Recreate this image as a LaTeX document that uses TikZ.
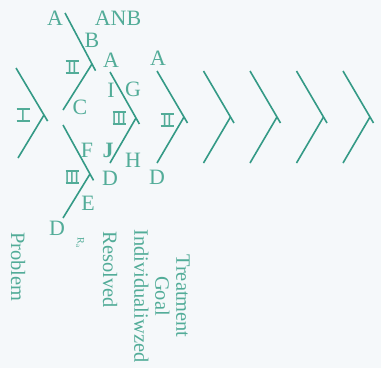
\documentclass[tikz,border=0pt]{standalone}
\usepackage{fontspec}
\setmainfont{Liberation Serif}
\newfontfamily\romfont{DejaVu Sans}
\usetikzlibrary{calc}
\definecolor{chevgreen}{RGB}{52,154,134}
\definecolor{labgreen}{RGB}{82,172,152}
\definecolor{paper}{RGB}{245,248,250}
% one chevron: name, top end, joint, bottom end
\newcommand\chevron[4]{%
  \coordinate (#1t) at #2; \coordinate (#1j) at #3; \coordinate (#1b) at #4;
  \draw[chev] (#1t) -- ($(#1t)!1.13!(#1j)$);
  \draw[chev] (#1b) -- (#1j);}
% roman numeral with bars above and below
\newcommand\romnum[1]{\setbox0\hbox to 13bp{\hss\romfont#1\hss}%
  \vbox{\hrule width\wd0 height1.5pt\kern-0.8pt\copy0\kern-0.8pt\hrule width\wd0 height1.5pt}}

\begin{document}
\begin{tikzpicture}[x=1bp,y=-1bp,
  chev/.style={chevgreen,line width=1.6bp},
  lab/.style={labgreen,inner sep=0pt,font=\fontsize{22}{23}\selectfont},
  rom/.style={labgreen,inner sep=0pt,font=\fontsize{16}{16}\selectfont},
  side/.style={labgreen,inner sep=0pt,rotate=-90,align=center,font=\fontsize{20.5}{21}\selectfont}]
  \fill[paper] (0,0) rectangle (381,368);
  \chevron{c1}{(16,68)}{(44,115)}{(18,158)}
  \chevron{c2}{(65,13)}{(92,64)}{(63,110)}
  \chevron{c3}{(63,125)}{(90,174)}{(63,218)}
  \chevron{c4}{(110,72)}{(136,118)}{(110,163)}
  \foreach \i in {0,...,4} {
    \pgfmathsetmacro\xt{157+46.5*\i}
    \pgfmathsetmacro\xj{184+46.5*\i}
    \chevron{r\i}{(\xt,71)}{(\xj,117)}{(\xt,163)}
  }
  % letters round the chevrons
  \node[lab] (a1) at (55,18) {A};
  \node[lab] (anb) at (118,18) {ANB};
  \node[lab] (b) at (92,40) {B};
  \node[rom] (ii1) at (72,67) {\romnum{II}};
  \node[lab] (c) at (80,107) {C};
  \node[rom] (i1) at (23,115) {\romnum{I}};
  \node[lab] (a2) at (111,60) {A};
  \node[lab] (i2) at (111,90) {I};
  \node[lab] (g) at (133,89) {G};
  \node[rom] (iii1) at (119,118) {\romnum{III}};
  \node[lab] (j) at (108,150) {\textbf{J}};
  \node[lab] (h) at (133,160) {H};
  \node[lab] (d1) at (110,178) {D};
  \node[lab] (f) at (87,150) {F};
  \node[rom] (iii2) at (72,177) {\romnum{III}};
  \node[lab] (e) at (88,203) {E};
  \node[lab] (d2) at (57,228) {D};
  \node[lab] (a3) at (158,58) {A};
  \node[rom] (ii2) at (167,120) {\romnum{II}};
  \node[lab] (d3) at (157,177) {D};
  % rotated captions
  \node[side] (problem) at (18,267) {Problem};
  \node[side,font=\fontsize{10}{10}\selectfont] (ra) at (80,243) {R\textsubscript{a}};
  \node[side] (resolved) at (110,270) {Resolved};
  \node[side] (goal) at (162,296) {Treatment\\Goal\\Individualiwzed};
\end{tikzpicture}
\end{document}
